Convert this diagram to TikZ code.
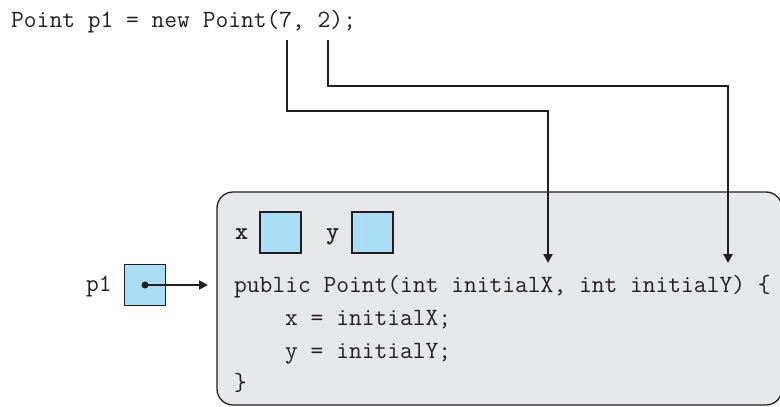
\documentclass[tikz,border=0pt]{standalone}
\usetikzlibrary{arrows.meta}
\definecolor{boxgray}{RGB}{230,231,232}
\definecolor{fieldblue}{RGB}{168,221,245}
\definecolor{ink}{RGB}{35,31,32}
\tikzset{
  code/.style={font=\ttfamily\fontsize{24.8}{24.8}\selectfont, text=ink, inner sep=0pt, anchor=base west},
  boldcode/.style={code, font=\ttfamily\bfseries\fontsize{24.8}{24.8}\selectfont},
  field/.style={draw=ink, line width=1.3pt, fill=fieldblue, minimum width=41pt, minimum height=41pt, inner sep=0pt},
  conn/.style={draw=ink, line width=2.2pt, -{Triangle[length=9pt,width=9pt]}},
}
\begin{document}
\begin{tikzpicture}[x=1pt,y=-1pt]
\useasboundingbox (0,0) rectangle (780,407);
% top statement
\node[code] (stmt) at (11,27) {Point p1 = new Point(7, 2);};
% object box
\draw[ink, line width=1.3pt, fill=boxgray, rounded corners=16pt] (217,192) rectangle (782,405);
\node[field] (fx) at (280.5,232.5) {};
\node[field] (fy) at (372.5,232.5) {};
\node[boldcode] (lx) at (235,239) {x};
\node[boldcode] (ly) at (326,239) {y};
\node[code] (l1) at (234,292) {public Point(int initialX, int initialY) \{};
\node[code] (l2) at (285,325) {x = initialX;};
\node[code] (l3) at (285,358) {y = initialY;};
\node[code] (l4) at (234,390) {\}};
% reference variable
\node[field] (p1) at (145,285) {};
\node[code] (lp1) at (86,291) {p1};
\coordinate (obj) at (208,285);
\fill[ink] (p1.center) circle (3.5pt);
\draw[conn] (p1.center) -- (obj);
% argument connectors
\coordinate (a7) at (287,40);
\coordinate (a2) at (328,40);
\coordinate (tX) at (548,263);
\coordinate (tY) at (728,263);
\draw[conn] (a7) -- (287,111) -| (tX);
\draw[conn] (a2) -- (328,86) -| (tY);
\end{tikzpicture}
\end{document}
